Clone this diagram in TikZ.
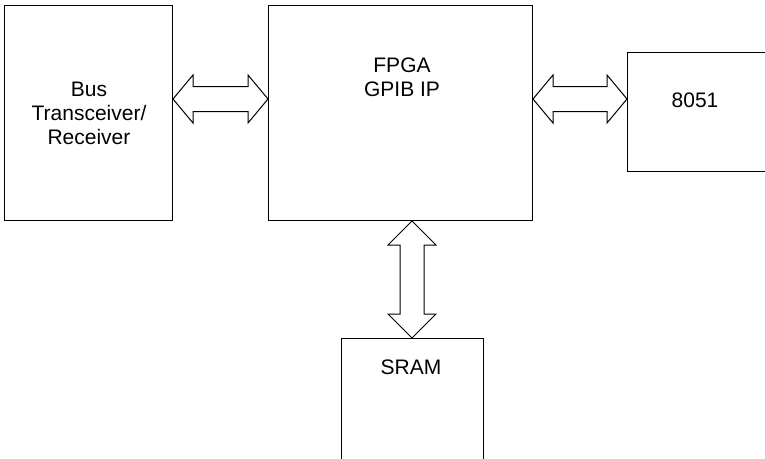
\documentclass[tikz,border=0pt]{standalone}
\usepackage{fontspec}
\setmainfont{Liberation Sans}
\usetikzlibrary{calc}
\tikzset{
  box/.style={draw=black, line width=1pt, fill=white, rectangle, inner sep=0pt, anchor=north west},
  lbl/.style={font=\fontsize{21}{24}\selectfont, align=center, inner sep=0pt},
  arr/.style={draw=black, line width=1pt, fill=white, line join=miter}
}
\newcommand\hdarr[2]{\draw[arr] let \p1=(#1), \p2=(#2) in
  (\p1) -- (\x1+20pt,\y1+24pt) -- (\x1+20pt,\y1+12.5pt) -- (\x2-20pt,\y2+12.5pt)
  -- (\x2-20pt,\y2+24pt) -- (\p2) -- (\x2-20pt,\y2-24pt) -- (\x2-20pt,\y2-12.5pt)
  -- (\x1+20pt,\y1-12.5pt) -- (\x1+20pt,\y1-24pt) -- cycle;}
\newcommand\vdarr[2]{\draw[arr] let \p1=(#1), \p2=(#2) in
  (\p1) -- (\x1+24pt,\y1-24pt) -- (\x1+12pt,\y1-24pt) -- (\x2+12pt,\y2+24pt)
  -- (\x2+24pt,\y2+24pt) -- (\p2) -- (\x2-24pt,\y2+24pt) -- (\x2-12pt,\y2+24pt)
  -- (\x1-12pt,\y1-24pt) -- (\x1-24pt,\y1-24pt) -- cycle;}
\begin{document}
\begin{tikzpicture}[x=1pt,y=-1pt]
\useasboundingbox (0,0) rectangle (765,458);
\clip (0,0) rectangle (765,458);
\fill[white] (0,0) rectangle (765,458);
% boxes
\node[box, minimum width=168pt, minimum height=215pt] (bus) at (4,5) {};
\node[box, minimum width=264pt, minimum height=215pt] (fpga) at (268,5) {};
\node[box, minimum width=150pt, minimum height=119pt] (mcu) at (627,52) {};
\node[box, minimum width=142pt, minimum height=140pt] (sram) at (341,338) {};
% labels
\node[lbl] (buslbl) at (89,113) {Bus\\Transceiver/\\Receiver};
\node[lbl] (fpgalbl) at (402,77) {FPGA\\GPIB IP};
\node[lbl] (mculbl) at (695,100) {8051};
\node[lbl] (sramlbl) at (411,367) {SRAM};
% arrow tips
\coordinate (t1) at (bus.east |- 0,99);
\coordinate (t2) at (fpga.west |- 0,99);
\coordinate (t3) at (fpga.east |- 0,99);
\coordinate (t4) at (mcu.west |- 0,99);
\coordinate (t5) at (412,0 |- fpga.south);
\coordinate (t6) at (412,0 |- sram.north);
\hdarr{t1}{t2}
\hdarr{t3}{t4}
\vdarr{t5}{t6}
\end{tikzpicture}
\end{document}
